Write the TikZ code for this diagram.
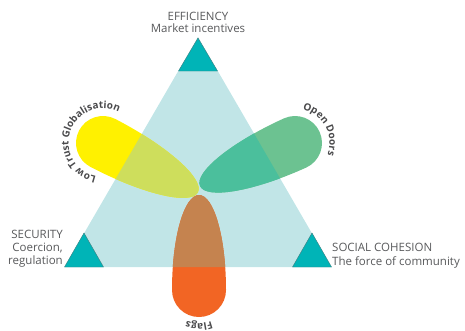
\documentclass[tikz,border=0pt]{standalone}
\usepackage{fontspec}
\setmainfont{Open Sans}
\usetikzlibrary{decorations.text}
\definecolor{cyanbg}{HTML}{C1E5E7}
\definecolor{teal}{HTML}{00B4B7}
\definecolor{tealline}{HTML}{3F7F80}
\definecolor{yelout}{HTML}{FFF100}
\definecolor{yelin}{HTML}{CEDE5C}
\definecolor{grnout}{HTML}{6CC291}
\definecolor{grnin}{HTML}{4BBF9C}
\definecolor{orgout}{HTML}{F26524}
\definecolor{orgin}{HTML}{C5834F}
\definecolor{txt}{HTML}{58595B}
\definecolor{lbltxt}{HTML}{4A4A4C}
\newcommand{\curvfont}{\fontsize{10}{10}\selectfont\bfseries\color{lbltxt}}
\begin{document}
\begin{tikzpicture}[x=1pt,y=1pt,
  petal/.pic={\path[pic actions] (0,27) arc[start angle=90,end angle=270,radius=27]
     arc[start angle=-90,end angle=90,x radius=#1,y radius=27] -- cycle;},
  corner/.style={fill=teal,draw=tealline,line width=0.4pt},
  lbl/.style={inner sep=0pt,text=txt,font=\fontsize{11.5}{13}\selectfont}]
\useasboundingbox (0,0) rectangle (465,-330);
\coordinate (T) at (198,-37);
\coordinate (L) at (64.5,-267);
\coordinate (R) at (331.5,-267);
\fill[cyanbg] (T) -- (L) -- (R) -- cycle;
% corner triangles
\draw[corner] (198,-38) -- (178.5,-71) -- (217.5,-71) -- cycle;
\draw[corner] (84,-233) -- (64.5,-267) -- (103.5,-267) -- cycle;
\draw[corner] (312,-233) -- (292.5,-267) -- (331.5,-267) -- cycle;
% petals
\pic[fill=yelout,rotate=-27.5] at (103,-143) {petal=107};
\pic[fill=grnout,rotate=-155.6] at (295,-143) {petal=104.3};
\pic[fill=orgout,rotate=90] at (199,-290) {petal=95};
\begin{scope}
\clip (T) -- (L) -- (R) -- cycle;
\pic[fill=yelin,rotate=-27.5] at (103,-143) {petal=107};
\pic[fill=grnin,rotate=-155.6] at (295,-143) {petal=104.3};
\pic[fill=orgin,rotate=90] at (199,-290) {petal=95};
\end{scope}
% curved labels
\path[decorate,decoration={text along path,text align=center,
  text={|\curvfont|Low Trust Globalisation}}]
  (103,-143) ++(281:34.5) arc[start angle=281,end angle=41,radius=34.5];
\path[decorate,decoration={text along path,text align=center,
  text={|\curvfont|Open Doors}}]
  (295,-143) ++(148.5:34.5) arc[start angle=148.5,end angle=-91.5,radius=34.5];
\path[decorate,decoration={text along path,text align=center,
  text={|\curvfont|Flags}}]
  (199,-290) ++(30:33.5) arc[start angle=30,end angle=-210,radius=33.5];
% texts
\node[lbl,anchor=base] (eff) at (198,-20) {EFFICIENCY};
\node[lbl,anchor=base] (mkt) at (198,-32) {Market incentives};
\node[lbl,anchor=base east] (sec) at (63,-238.3) {SECURITY};
\node[lbl,anchor=base east] (coe) at (63,-251.5) {Coercion,};
\node[lbl,anchor=base east] (reg) at (63,-264.5) {regulation};
\node[lbl,anchor=base west] (soc) at (332,-251.7) {SOCIAL COHESION};
\node[lbl,anchor=base west] (com) at (332,-265.2) {The force of community};
\end{tikzpicture}
\end{document}
